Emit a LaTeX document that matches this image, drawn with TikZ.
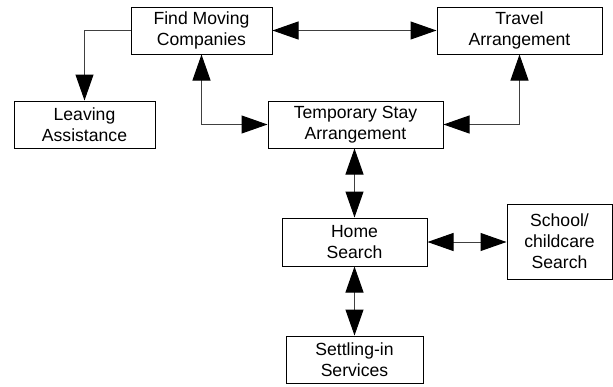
\documentclass[tikz,border=0pt]{standalone}
\usepackage{fontspec}
\setmainfont{Liberation Sans}
\usetikzlibrary{arrows.meta}
\begin{document}
\begin{tikzpicture}[x=1pt,y=-1pt,
  box/.style={draw=black,line width=1pt,rectangle,align=center,inner sep=0pt,
    font=\fontsize{17.6}{21}\selectfont},
  link/.style={draw=black!75,line width=1pt},
  tip/.style={-{Triangle[length=26pt,width=18pt,color=black]}},
  both/.style={{Triangle[length=26pt,width=18pt,color=black]}-{Triangle[length=26pt,width=18pt,color=black]}}]
\useasboundingbox (0,0) rectangle (613,386);
\node[box,minimum width=141pt,minimum height=47pt] (fm) at (201.5,30.5) {Find Moving\\Companies};
\node[box,minimum width=141pt,minimum height=47pt] (la) at (84.5,124.5) {Leaving\\Assistance};
\node[box,minimum width=175pt,minimum height=47pt] (ts) at (355.5,124.5) {Temporary Stay\\Arrangement};
\node[box,minimum width=165pt,minimum height=47pt] (ta) at (519.5,30.5) {Travel\\Arrangement};
\node[box,minimum width=145pt,minimum height=48pt] (hs) at (354.5,242) {Home\\Search};
\node[box,minimum width=105pt,minimum height=75pt] (sc) at (559.5,241.5) {School/\\childcare\\Search};
\node[box,minimum width=137pt,minimum height=47pt] (si) at (354.5,359.5) {Settling-in\\Services};
\draw[link,tip] (fm.west) -| (la.north);
\draw[link,both] (fm.east) -- (ta.west);
\draw[link,both] (fm.south) |- (ts.west);
\draw[link,both] (ta.south) |- (ts.east);
\draw[link,both] (hs.north |- ts.south) -- (hs.north);
\draw[link,both] (hs.east) -- (sc.west |- hs.east);
\draw[link,both] (hs.south) -- (si.north);
\end{tikzpicture}
\end{document}
